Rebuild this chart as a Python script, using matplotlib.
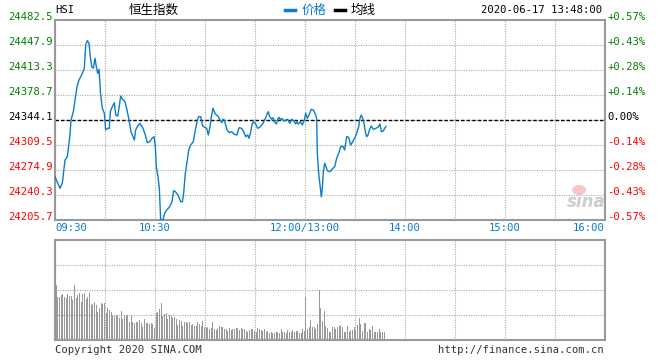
import numpy as np
from matplotlib import pyplot as plt
from matplotlib.lines import Line2D
from matplotlib.patches import Ellipse

plt.rcParams['font.family'] = ['DejaVu Sans Mono', 'Noto Sans CJK SC']

prev_close = 24344.1
price_ticks = [24482.5, 24447.9, 24413.3, 24378.7, 24344.1,
               24309.5, 24274.9, 24240.3, 24205.7]
time_ticks = [0, 60, 150, 210, 270, 330]
time_labels = ['09:30', '10:30', '12:00/13:00', '14:00', '15:00', '16:00']

# trading minutes since 09:30 (lunch break removed)
price_min = [0, 3, 4.4, 6, 7.4, 9, 9.6, 11, 12, 13.2,
             14.4, 16, 17.6, 18.4, 19.4, 20.4, 21.2, 22, 23, 24,
             24.8, 25.6, 26.4, 27.4, 28.4, 29.6, 30.4, 31.6, 32.6, 33.2,
             34.4, 35.6, 36.4, 37.6, 38.4, 39.4, 40.6, 42, 43.2, 44.4,
             45.6, 46.8, 47.6, 48.4, 49.6, 51, 52.8, 54.2, 55.4, 56.8,
             58.2, 59.4, 60.2, 60.8, 61.8, 62.6, 63.4, 64.8, 65.8, 67,
             68.8, 70.2, 71.2, 72.2, 73.8, 75.4, 76.4, 77.2, 78.2, 79.4,
             80.2, 81.4, 83, 84.2, 85.4, 86.2, 87.4, 88.6, 89.8, 91,
             92, 93, 93.8, 94.8, 95.8, 96.8, 97.8, 99, 100.2, 100.6,
             101.6, 103.2, 104.6, 106, 107.6, 109.2, 110.4, 112, 113.2, 114.4,
             115.6, 116.4, 117.2, 118.4, 119.2, 120.4, 121.6, 123.2, 124.6, 126,
             127.2, 128, 128.8, 130, 130.8, 131.6, 132.8, 133.6, 134.4, 135.2,
             136, 137.2, 138.4, 139.6, 140.8, 142, 143.2, 144.4, 145.2, 146,
             147.2, 148.4, 149.6, 150.4, 151.4, 152.4, 153.8, 155, 156.2, 157,
             157.4, 158.2, 159, 159.8, 160.4, 161, 161.8, 162.6, 163.4, 165,
             166.2, 167.8, 169, 170.2, 171.4, 172.6, 173.8, 175, 176.2, 177.4,
             178.6, 179.8, 181, 182.2, 183, 183.8, 184.6, 185.4, 186.2, 187,
             187.8, 189, 189.8, 191, 192.6, 193.8, 195, 195.8, 197, 197.8,
             198.6]
price_val = [24265.6, 24249.6, 24256.9, 24288.7, 24293.3, 24323.3, 24344.1, 24355.6, 24371.8, 24390.2,
             24399.5, 24406.4, 24415.7, 24447.9, 24453.9, 24450.3, 24431.7, 24417.9, 24415.7, 24429.5,
             24417.9, 24408.7, 24414.3, 24378.7, 24360.3, 24353.4, 24330.3, 24332.6, 24332.6, 24355.6,
             24362.5, 24368.0, 24351.0, 24349.6, 24360.3, 24377.3, 24372.7, 24369.4, 24357.9, 24344.1,
             24327.9, 24321.0, 24316.4, 24330.3, 24335.8, 24339.5, 24332.6, 24323.3, 24312.7, 24314.1,
             24318.8, 24321.0, 24307.1, 24279.5, 24265.6, 24249.6, 24205.7, 24205.7, 24215.0, 24219.5,
             24224.1, 24231.0, 24246.3, 24244.9, 24240.3, 24231.0, 24231.0, 24242.7, 24270.3, 24288.7,
             24302.6, 24309.5, 24314.1, 24330.3, 24344.1, 24348.7, 24348.7, 24335.8, 24334.0, 24332.6,
             24323.3, 24334.8, 24348.7, 24360.3, 24354.2, 24351.0, 24349.6, 24344.1, 24340.4, 24345.1,
             24344.1, 24330.3, 24326.5, 24327.9, 24324.3, 24323.3, 24333.4, 24332.6, 24327.9, 24321.0,
             24323.3, 24318.8, 24325.7, 24339.5, 24341.7, 24338.6, 24332.6, 24334.8, 24338.6, 24345.1,
             24352.0, 24355.6, 24348.7, 24345.1, 24347.3, 24341.7, 24338.6, 24345.1, 24347.8, 24344.1,
             24346.5, 24342.7, 24344.1, 24345.1, 24339.5, 24345.1, 24343.1, 24338.6, 24341.7, 24338.6,
             24341.7, 24337.2, 24344.1, 24353.4, 24346.5, 24351.0, 24358.9, 24357.9, 24352.4, 24346.5,
             24298.0, 24270.3, 24254.1, 24237.9, 24249.6, 24272.5, 24284.2, 24279.5, 24273.9, 24272.5,
             24275.9, 24279.5, 24291.1, 24298.0, 24307.1, 24308.1, 24302.6, 24321.0, 24320.2, 24309.5,
             24314.1, 24318.8, 24325.7, 24334.8, 24346.5, 24351.0, 24346.5, 24339.5, 24327.9, 24321.0,
             24323.3, 24332.6, 24335.8, 24331.2, 24332.6, 24334.0, 24338.6, 24327.9, 24328.9, 24332.6,
             24334.8]

# per-minute volume (relative units, panel top = 100)
vol_am = [55, 43, 43, 45, 46, 43, 42, 46, 44, 44,
          40, 55, 42, 45, 47, 38, 46, 47, 41, 43,
          47, 35, 36, 38, 35, 28, 32, 37, 36, 37,
          27, 32, 30, 28, 25, 24, 25, 25, 22, 29,
          21, 25, 25, 25, 18, 25, 18, 17, 18, 18,
          20, 17, 13, 21, 17, 17, 16, 17, 16, 12,
          27, 28, 31, 37, 24, 26, 27, 21, 25, 24,
          22, 23, 21, 15, 20, 19, 14, 18, 18, 17,
          18, 15, 16, 14, 14, 18, 16, 14, 19, 13,
          12, 13, 11, 12, 18, 11, 10, 12, 14, 13,
          13, 11, 11, 9, 12, 10, 11, 11, 12, 12,
          10, 12, 11, 11, 9, 8, 10, 11, 11, 9,
          8, 12, 11, 10, 9, 11, 8, 9, 7, 8,
          7, 7, 8, 8, 7, 11, 8, 8, 7, 10,
          8, 8, 10, 8, 9, 9, 7, 7, 11, 9]
vol_pm = [43, 11, 13, 20, 13, 13, 11, 16, 50, 32,
          19, 29, 14, 12, 8, 8, 13, 13, 11, 13,
          14, 15, 13, 8, 8, 14, 8, 10, 10, 13,
          10, 15, 22, 16, 9, 17, 17, 8, 11, 10,
          14, 8, 8, 8, 11, 8, 8, 8]

W, H = 660, 360
line_blue = '#0a7cce'
grid_kw = dict(color='#aaaaaa', linestyle=(0, (1, 1.2)), linewidth=0.8)


def fx(x):
    return x / W


def fy(y):
    return 1 - y / H


fig = plt.figure(figsize=(W / 100, H / 100), dpi=100)
ax = fig.add_axes([fx(55), fy(220), 550 / W, 200 / H])
axv = fig.add_axes([fx(55), fy(340), 550 / W, 100 / H])

for a in (ax, axv):
    a.set_xlim(0, 330)
    a.set_xticks(np.arange(0, 331, 30))
    a.tick_params(length=0, labelleft=False, labelbottom=False)
    a.grid(True, **grid_kw)
    a.set_axisbelow(True)
    for s in a.spines.values():
        s.set_color('#999999')
        s.set_linewidth(1.5)

# price panel
ax.set_ylim(price_ticks[-1], price_ticks[0])
ax.set_yticks(price_ticks)
ax.axhline(prev_close, color='black', linestyle=(0, (2.5, 1.5)), linewidth=1, zorder=2)
n = min(len(price_min), len(price_val))
ax.plot(price_min[:n], price_val[:n], color=line_blue, linewidth=1.0, zorder=3)

ytr = ax.get_yaxis_transform()
for p in price_ticks:
    if p > prev_close + 0.01:
        c = '#008000'
    elif p < prev_close - 0.01:
        c = '#ff0000'
    else:
        c = 'black'
    pct = (p - prev_close) / prev_close * 100
    if abs(pct) < 0.005:
        ptxt = '0.00%'
    else:
        ptxt = '%+.2f%%' % pct
    ax.text(-0.004, p, '%.1f' % p, transform=ytr, ha='right', va='baseline',
            color=c, fontsize=7.6)
    ax.text(1.004, p, ptxt, transform=ytr, ha='left', va='baseline',
            color=c, fontsize=7.6)

xtr = ax.get_xaxis_transform()
for t, lab in zip(time_ticks, time_labels):
    ha = 'center'
    if t == 0:
        ha = 'left'
    elif t == 330:
        ha = 'right'
    ax.text(t, -0.04, lab, transform=xtr, ha=ha, va='center',
            color=line_blue, fontsize=7.6)

# volume panel
axv.set_ylim(0, 100)
axv.set_yticks([25, 50, 75])
axv.bar(np.arange(len(vol_am)) + 0.7, vol_am, width=0.6, color='#999999', linewidth=0)
axv.bar(150.5 + np.arange(len(vol_pm)), vol_pm, width=0.6, color='#999999', linewidth=0)

# header
fig.text(fx(55), fy(10), 'HSI', ha='left', va='center', fontsize=7.6, color='black')
fig.text(fx(154), fy(10), '恒生指数', ha='center', va='center', fontsize=9,
         family=['Noto Sans CJK SC', 'DejaVu Sans'], color='black')
fig.add_artist(Line2D([fx(285), fx(295)], [fy(10), fy(10)], color=line_blue,
                      linewidth=2.5, transform=fig.transFigure))
fig.text(fx(302), fy(10), '价格', ha='left', va='center', fontsize=9,
         family=['Noto Sans CJK SC', 'DejaVu Sans'], color=line_blue)
fig.add_artist(Line2D([fx(335), fx(345)], [fy(10), fy(10)], color='black',
                      linewidth=2.5, transform=fig.transFigure))
fig.text(fx(351), fy(10), '均线', ha='left', va='center', fontsize=9,
         family=['Noto Sans CJK SC', 'DejaVu Sans'], color='black')
fig.text(fx(602), fy(10), '2020-06-17 13:48:00', ha='right', va='center',
         fontsize=7.6, color='black')

# footer
fig.text(fx(55), fy(350), 'Copyright 2020 SINA.COM', ha='left', va='center',
         fontsize=7.6, color='#333333')
fig.text(fx(604), fy(350), 'http://finance.sina.com.cn', ha='right', va='center',
         fontsize=7.6, color='#333333')

# faded sina watermark
fig.add_artist(Ellipse((fx(579), fy(190)), 14 / W, 10 / H, transform=fig.transFigure,
                       facecolor='#f6c6c6', edgecolor='none'))
fig.text(fx(586), fy(202), 'sina', ha='center', va='center', fontsize=12,
         family='DejaVu Sans', style='italic', weight='bold', color='#cccccc')

fig.savefig('out.png', dpi=100)
